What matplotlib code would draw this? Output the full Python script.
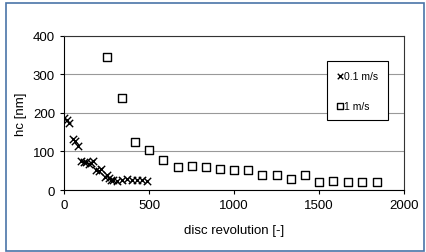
import matplotlib.pyplot as plt
from matplotlib.patches import Rectangle

plt.rcParams['font.family'] = ['Liberation Sans', 'DejaVu Sans']

# 0.1 m/s series (crosses)
rev_slow = [0, 15, 30, 55, 65, 85, 100, 115, 130, 145, 160, 170, 190, 205,
            215, 240, 250, 265, 275, 290, 310, 340, 370, 400, 430, 460, 490]
hc_slow = [188, 183, 175, 132, 127, 114, 76, 72, 74, 67, 70, 76, 53, 50,
           55, 33, 38, 30, 27, 25, 24, 25, 28, 25, 27, 25, 23]

# 1 m/s series (squares)
rev_fast = [251, 339, 418, 500, 584, 668, 751, 833, 916, 1000, 1084, 1166,
            1251, 1333, 1418, 1500, 1584, 1669, 1755, 1839]
hc_fast = [346, 239, 124, 104, 79, 59, 63, 59, 55, 52, 52, 39,
           39, 29, 39, 22, 24, 22, 22, 20]

fig = plt.figure(figsize=(4.27, 2.53), dpi=100)
ax = fig.add_axes([0.150, 0.245, 0.796, 0.609])

ax.scatter(rev_slow, hc_slow, marker='x', s=28, c='black', linewidths=1.0,
           label='0.1 m/s', zorder=3)
ax.scatter(rev_fast, hc_fast, marker='s', s=28, facecolors='white',
           edgecolors='black', linewidths=1.0, label='1 m/s', zorder=3)

ax.set_xlim(0, 2000)
ax.set_ylim(0, 400)
ax.set_xticks([0, 500, 1000, 1500, 2000])
ax.set_yticks([0, 100, 200, 300, 400])
ax.yaxis.grid(True, color='#999999', linewidth=0.8)
ax.set_axisbelow(True)
ax.tick_params(labelsize=9.5, length=3, width=0.8, direction='out', colors='black')
for sp in ax.spines.values():
    sp.set_linewidth(0.8)
    sp.set_color('black')
ax.spines['top'].set_color('#333333')
ax.spines['right'].set_color('#333333')

ax.set_xlabel('disc revolution [-]', fontsize=9.5, labelpad=9)
ax.set_ylabel('hc [nm]', fontsize=9.5, labelpad=4)

leg = ax.legend(loc='upper left', bbox_to_anchor=(0.773, 0.838),
                fontsize=7.5, frameon=True, fancybox=False, edgecolor='black',
                labelspacing=1.9, handlelength=0.6, handletextpad=0.1,
                borderpad=0.95, borderaxespad=0, markerscale=0.75)
leg.get_frame().set_linewidth(0.8)
leg.get_frame().set_alpha(1)

# outer blue frame
fig.patches.append(Rectangle((6 / 427, 1 / 253), 418 / 427, 248 / 253,
                             transform=fig.transFigure, fill=False,
                             edgecolor='#4a74a8', linewidth=1.2))

fig.savefig('out.png', dpi=100)
